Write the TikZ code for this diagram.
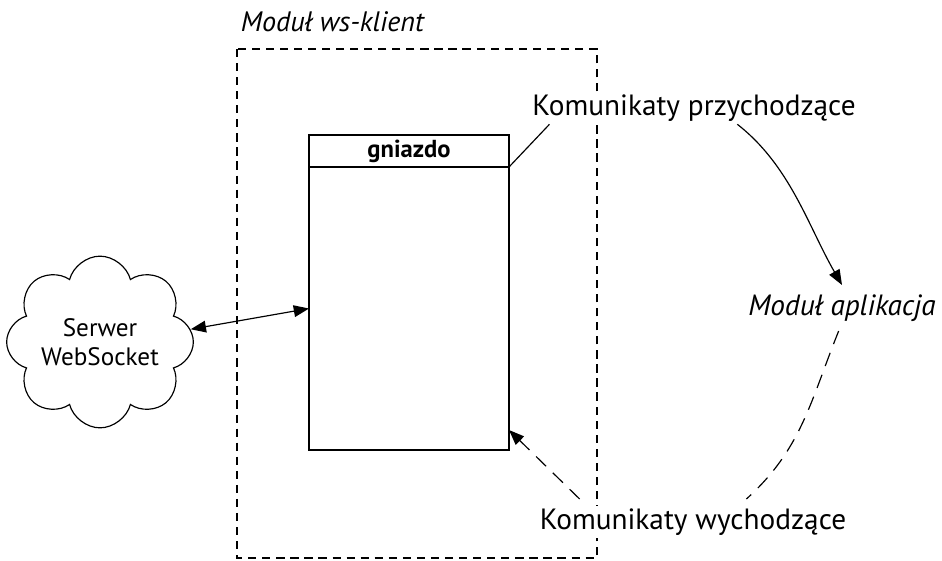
\documentclass[tikz,border=0pt]{standalone}
\usepackage{fontspec}
\setmainfont{PT Sans}
\usepackage{tikz}
\usetikzlibrary{arrows.meta, positioning, calc, shapes.symbols}

\begin{document}
\begin{tikzpicture}[
  x=0.03cm, y=-0.03cm, line width=1pt,
  lbl/.style={font=\fontsize{25}{29}\selectfont, inner sep=2pt},
  modlbl/.style={font=\fontsize{24}{28}\selectfont\itshape, inner sep=2pt},
  box/.style={draw, minimum width=6cm, inner sep=0pt, outer sep=0pt},
  frame/.style={dash pattern=on 7pt off 5pt, line width=1.2pt},
  flow/.style={-{Triangle[length=13pt,width=10pt]}},
  back/.style={dash pattern=on 12pt off 8pt},
]
\useasboundingbox (0,0) rectangle (942,561);

\draw[frame] (237,49) rectangle (597,558);
\node[modlbl, anchor=west] (WS) at (238,22) {Moduł ws-klient};

\node[box, minimum height=0.96cm, font=\fontsize{21}{24}\selectfont\bfseries] (G) at (409,151) {gniazdo};
\node[box, minimum height=8.49cm, below=0pt of G] (B) {};

\node[cloud, draw, cloud puffs=8, cloud ignores aspect, minimum width=5.6cm, minimum height=5.15cm,
      inner sep=-6pt, align=center, font=\fontsize{21.5}{25}\selectfont] (C) at (100,342) {Serwer\\WebSocket};

\node[lbl, fill=white] (IN)  at (694,108) {Komunikaty przychodzące};
\node[lbl, fill=white] (OUT) at (693,522) {Komunikaty wychodzące};
\node[modlbl, font=\fontsize{25}{29}\selectfont\itshape] (APP) at (842,308) {Moduł aplikacja};

\draw[{Triangle[length=13pt,width=10pt]}-{Triangle[length=13pt,width=10pt]}] (C.8) -- (B.west);
\draw (G.south east) -- ([xshift=0.6cm]IN.south west);
\draw[flow] ([xshift=1.3cm]IN.south) to[out=-38, in=120, looseness=0.9] ([yshift=0.2cm]APP.north);
\draw[back] ([xshift=-0.1cm,yshift=-0.2cm]APP.south) to[out=-112, in=42] ([xshift=1.6cm,yshift=0.2cm]OUT.north);
\draw[back, flow] ([xshift=-3.4cm,yshift=0.2cm]OUT.north) -- ([yshift=0.6cm]B.south east);

\end{tikzpicture}
\end{document}
